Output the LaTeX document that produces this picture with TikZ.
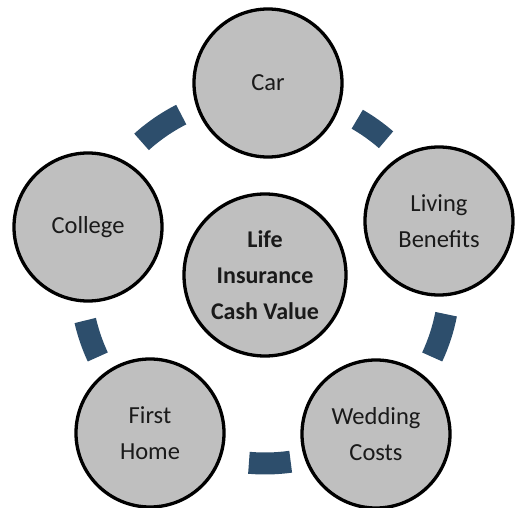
\documentclass[tikz,border=0pt]{standalone}
\usepackage{fontspec}
\setmainfont{Carlito}
\definecolor{circgray}{HTML}{BFBFBF}
\definecolor{arcblue}{HTML}{2D4E6C}
\definecolor{textdark}{HTML}{1A1A1A}
\begin{document}
\begin{tikzpicture}[x=1pt,y=-1pt,
  bubble/.style={circle, draw=black, line width=3.3pt, fill=circgray, minimum size=148pt, inner sep=0pt, align=center, font=\fontsize{24.5}{36}\selectfont, text=textdark},
  hub/.style={bubble, minimum size=162pt, font=\bfseries\fontsize{24}{36}\selectfont},
  link/.style={draw=arcblue, line width=22pt}]
\useasboundingbox (0,0) rectangle (515,508);
\coordinate (ring) at (265,279);
% decorative ring segments (angles negated because y points down)
\foreach \a/\b in {-117/-132, -49/-60, 25/11, 95/82, -193/-205}{
  \draw[link] ([shift={(ring)}]\a:184.5) arc[start angle=\a, end angle=\b, radius=184.5];
}
\node[bubble] (car) at (268,83) {Car};
\node[bubble] (college) at (88,227) {College};
\node[bubble] (living) at (439,221) {Living\\Benefits};
\node[bubble] (wedding) at (376,434) {Wedding\\Costs};
\node[bubble] (home) at (150,433) {First\\Home};
\node[hub] (center) at (265,275) {Life\\Insurance\\Cash Value};
\end{tikzpicture}
\end{document}
